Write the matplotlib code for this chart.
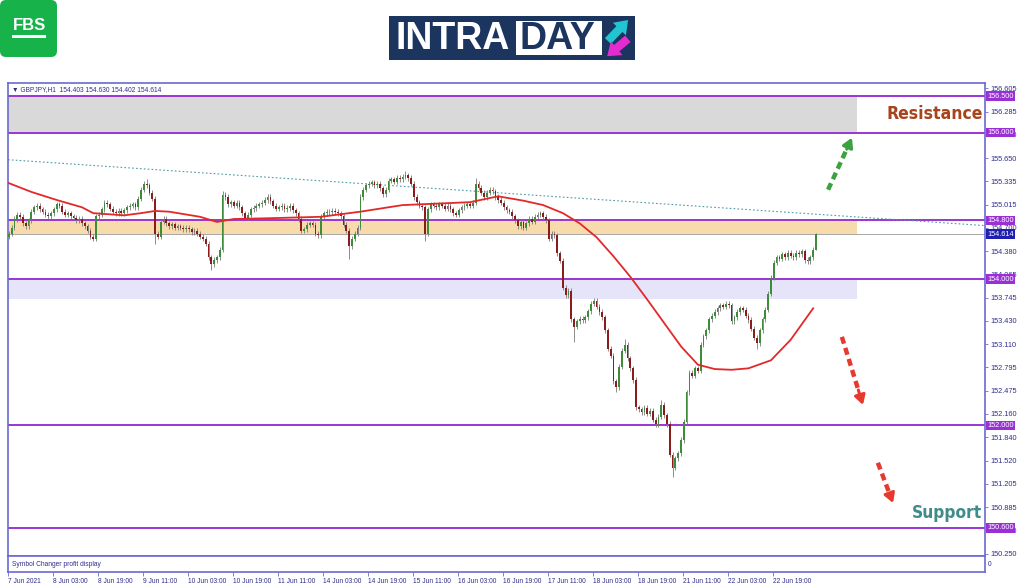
import matplotlib
matplotlib.use('Agg')
import matplotlib.pyplot as plt
import matplotlib.transforms as mtransforms
from matplotlib.patches import FancyBboxPatch, Rectangle, FancyArrowPatch

plt.rcParams['font.family'] = ['Liberation Sans', 'DejaVu Sans']

# hourly closes, GBPJPY H1, 16 bars per row (one row per time label)
closes = [
    154.62, 154.70, 154.82, 154.88, 154.85, 154.76, 154.72, 154.80, 154.92, 154.98, 155.00, 154.95, 154.92, 154.88, 154.86, 154.90,
    154.95, 155.02, 155.00, 154.92, 154.88, 154.90, 154.86, 154.84, 154.80, 154.82, 154.76, 154.72, 154.66, 154.58, 154.55, 154.86,
    154.88, 154.95, 155.04, 155.02, 154.96, 154.92, 154.90, 154.93, 154.90, 154.94, 154.98, 155.00, 155.02, 154.98, 155.10, 155.22,
    155.30, 155.28, 155.18, 155.10, 154.62, 154.58, 154.78, 154.82, 154.76, 154.72, 154.75, 154.70, 154.72, 154.70, 154.68, 154.70,
    154.68, 154.64, 154.66, 154.62, 154.58, 154.55, 154.48, 154.30, 154.20, 154.26, 154.30, 154.40, 155.15, 155.12, 155.02, 155.05,
    155.00, 155.04, 154.98, 154.90, 154.84, 154.88, 154.95, 154.97, 155.00, 155.02, 155.04, 155.08, 155.12, 155.06, 155.00, 154.96,
    154.98, 155.00, 154.95, 154.97, 155.00, 154.94, 154.90, 154.82, 154.66, 154.68, 154.74, 154.76, 154.74, 154.62, 154.60, 154.86,
    154.90, 154.92, 154.91, 154.93, 154.92, 154.90, 154.86, 154.74, 154.66, 154.45, 154.55, 154.62, 154.70, 155.12, 155.22, 155.28,
    155.30, 155.32, 155.28, 155.30, 155.24, 155.16, 155.22, 155.34, 155.36, 155.33, 155.38, 155.36, 155.40, 155.42, 155.38, 155.30,
    155.12, 155.05, 155.00, 154.98, 154.62, 154.95, 155.02, 155.00, 154.98, 155.02, 155.00, 154.96, 155.00, 154.95, 154.90, 154.88,
    154.94, 154.98, 155.00, 155.02, 155.00, 155.04, 155.30, 155.25, 155.18, 155.12, 155.18, 155.22, 155.20, 155.12, 155.08, 155.04,
    154.98, 154.94, 154.92, 154.86, 154.80, 154.72, 154.78, 154.70, 154.76, 154.82, 154.78, 154.85, 154.88, 154.90, 154.85, 154.80,
    154.55, 154.62, 154.60, 154.35, 154.25, 153.88, 153.78, 153.84, 153.45, 153.35, 153.42, 153.46, 153.44, 153.48, 153.56, 153.66,
    153.70, 153.62, 153.55, 153.48, 153.30, 153.05, 152.95, 152.60, 152.52, 152.80, 153.02, 153.10, 152.92, 152.78, 152.62, 152.25,
    152.22, 152.18, 152.24, 152.16, 152.20, 152.08, 152.02, 152.12, 152.28, 152.14, 152.02, 151.60, 151.42, 151.55, 151.62, 151.80,
    152.05, 152.45, 152.72, 152.68, 152.78, 152.75, 153.10, 153.22, 153.30, 153.45, 153.50, 153.55, 153.60, 153.64, 153.62, 153.66,
    153.64, 153.42, 153.48, 153.55, 153.60, 153.58, 153.50, 153.44, 153.32, 153.20, 153.12, 153.30, 153.45, 153.58, 153.80, 154.02,
    154.22, 154.30, 154.28, 154.34, 154.30, 154.36, 154.32, 154.30, 154.36, 154.34, 154.38, 154.26, 154.24, 154.30, 154.403, 154.614,
]
first_open = 154.58

# bars with long wicks (bar index -> extreme)
long_highs = {49: 155.37, 76: 155.20, 141: 155.47, 166: 155.38, 219: 153.18, 232: 152.35, 287: 154.630}
long_lows = {30: 154.52, 52: 154.48, 72: 154.12, 121: 154.28, 148: 154.52, 201: 153.14,
             216: 152.45, 236: 151.30, 266: 153.05, 287: 154.402}
short_wick = 0.035

# moving average (bar index, price)
ma_bars = [0, 8, 17, 26, 30, 41, 47, 52, 57, 68, 74, 80, 92, 111, 125, 140, 164, 174, 183,
           190, 197, 203, 209, 215, 221, 227, 233, 239, 245, 251, 257, 263, 271, 278, 286]
ma_prices = [155.31, 155.19, 155.08, 154.98, 154.90, 154.87, 154.90, 154.93, 154.92, 154.85,
             154.78, 154.82, 154.83, 154.85, 154.92, 155.01, 155.05, 155.13, 155.07, 155.01,
             154.90, 154.76, 154.57, 154.31, 154.03, 153.72, 153.40, 153.08, 152.83, 152.77,
             152.76, 152.78, 152.89, 153.17, 153.60]

trend_bars = [-0.3, 347.1]
trend_prices = [155.63, 154.73]

levels = [156.5, 156.0, 154.8, 154.0, 152.0, 150.6]
bid = 154.614
zones = [(156.0, 156.5, '#d9d9d9'), (154.6, 154.8, '#f8dbad'), (153.73, 154.0, '#e6e4f8')]
zone_end = 301.5

price_ticks = [150.250, 150.570, 150.885, 151.205, 151.520, 151.840, 152.160, 152.475, 152.795,
               153.110, 153.430, 153.745, 154.065, 154.380, 154.700, 155.015, 155.335, 155.650,
               155.970, 156.285, 156.605]
time_labels = ['7 Jun 2021', '8 Jun 03:00', '8 Jun 19:00', '9 Jun 11:00', '10 Jun 03:00',
               '10 Jun 19:00', '11 Jun 11:00', '14 Jun 03:00', '14 Jun 19:00', '15 Jun 11:00',
               '16 Jun 03:00', '16 Jun 19:00', '17 Jun 11:00', '18 Jun 03:00', '18 Jun 19:00',
               '21 Jun 11:00', '22 Jun 03:00', '22 Jun 19:00']

# projection arrows (bar, price) start -> tip
arrows = [((291.3, 155.22), (299.8, 155.93), '#3aa23e'),
          ((296.2, 153.21), (303.7, 152.28), '#e8392e'),
          ((309.0, 151.49), (314.4, 150.94), '#e8392e')]

axis_blue = '#6a6ad2'
text_blue = '#2e2e8c'

fig = plt.figure(figsize=(10.24, 5.87), dpi=100)
ax = fig.add_axes([8 / 1024, 1 - 556 / 587, 977 / 1024, 473 / 587])
sub = fig.add_axes([8 / 1024, 1 - 572 / 587, 977 / 1024, 16 / 587])

xmin, xmax = -0.3, 347.1
ax.set_xlim(xmin, xmax)
ax.set_ylim(150.216, 156.678)

for lo, hi, col in zones:
    ax.fill_between([xmin, zone_end], lo, hi, color=col, lw=0, zorder=0)

for lvl in levels:
    ax.axhline(lvl, color='#9b35d0', lw=1.4, zorder=1)
ax.axhline(bid, color='#a8a8a8', lw=0.7, zorder=1)
ax.plot(trend_bars, trend_prices, color='#4f9aa8', lw=0.8, ls=(0, (1.5, 2.0)), zorder=1)

opens = [first_open] + closes[:-1]
for i, (o, c) in enumerate(zip(opens, closes)):
    hi = long_highs.get(i, max(o, c) + short_wick)
    lo = long_lows.get(i, min(o, c) - short_wick)
    ax.vlines(i, lo, hi, color='#7a7a7a', lw=0.6, zorder=2)
    col = '#3c8c3c' if c >= o else '#8c1c1c'
    ax.bar(i, max(abs(c - o), 0.012), bottom=min(o, c), width=0.62, color=col, lw=0, zorder=3)

ax.plot(ma_bars, ma_prices, color='#e3282a', lw=1.3, zorder=4)

for (x0, y0), (x1, y1), col in arrows:
    xm, ym = x1 - 0.22 * (x1 - x0), y1 - 0.22 * (y1 - y0)
    ax.plot([x0, xm], [y0, ym], color=col, lw=3.2, ls=(0, (1.6, 1.0)), solid_capstyle='butt', zorder=5)
    ax.annotate('', xy=(x1, y1), xytext=(xm, ym),
                arrowprops=dict(arrowstyle='-|>,head_length=0.55,head_width=0.32', color=col,
                                lw=2.2, shrinkA=0, shrinkB=0), zorder=5)

ax.set_xticks([])
ax.yaxis.tick_right()
ax.set_yticks(price_ticks)
ax.set_yticklabels([f'{v:.3f}' for v in price_ticks])
ax.tick_params(axis='y', length=2.5, width=0.6, color=axis_blue, labelcolor=text_blue, labelsize=5.3, pad=1.5)
for s in ax.spines.values():
    s.set_color(axis_blue)
    s.set_linewidth(1.2)

lab_tr = mtransforms.blended_transform_factory(ax.transAxes, ax.transData)
for lvl in levels:
    ax.text(1.0025, lvl, f'{lvl:.3f}', transform=lab_tr, ha='left', va='center', fontsize=5.3,
            color='white', clip_on=False, zorder=10,
            bbox=dict(boxstyle='square,pad=0.18', fc='#9b2fd6', ec='none'))
ax.text(1.0025, bid, f'{bid:.3f}', transform=lab_tr, ha='left', va='center', fontsize=5.3,
        color='white', clip_on=False, zorder=10,
        bbox=dict(boxstyle='square,pad=0.18', fc='#1e1eb0', ec='none'))

ax.text(0.004, 0.987, '\u25bc GBPJPY,H1  154.403 154.630 154.402 154.614', transform=ax.transAxes,
        ha='left', va='center', fontsize=4.8, color=text_blue)

ax.text(0.998, 156.25, 'Resistance', transform=lab_tr, ha='right', va='center', fontsize=12.6,
        fontweight='bold', fontstretch='condensed', color='#a8441c', family=['DejaVu Sans'])
ax.text(0.997, 150.81, 'Support', transform=lab_tr, ha='right', va='center', fontsize=12.4,
        fontweight='bold', fontstretch='condensed', color='#3f8c8a', family=['DejaVu Sans'])

sub.set_xlim(xmin, xmax)
sub.set_ylim(0, 1)
sub.set_yticks([])
sub.set_xticks([16 * k - 0.5 for k in range(len(time_labels))])
sub.set_xticklabels(time_labels, ha='left')
sub.tick_params(axis='x', length=3, width=0.6, color=axis_blue, labelcolor=text_blue, labelsize=4.8, pad=1)
for s in sub.spines.values():
    s.set_color(axis_blue)
    s.set_linewidth(1.2)
sub.text(0.004, 0.5, 'Symbol Changer profit display', transform=sub.transAxes, ha='left', va='center',
         fontsize=4.8, color=text_blue)
sub.text(1.003, 0.5, '0', transform=sub.transAxes, ha='left', va='center', fontsize=4.8,
         color=text_blue, clip_on=False)

# logos, drawn in pixel coordinates
top = fig.add_axes([0, 0, 1, 1], zorder=20)
top.set_xlim(0, 1024)
top.set_ylim(587, 0)
top.axis('off')
top.patch.set_alpha(0)

top.add_patch(FancyBboxPatch((0, 0), 57, 57, boxstyle='round,pad=0,rounding_size=6', fc='#18b24b', ec='none'))
top.text(29, 25, 'FBS', ha='center', va='center', fontsize=12, fontweight='bold', color='white')
top.add_patch(Rectangle((12, 35), 34, 2.5, fc='white', ec='none'))

top.add_patch(Rectangle((389, 16), 246, 44, fc='#1b355f', ec='none'))
top.text(396, 39, 'INTRA', ha='left', va='center', fontsize=27, fontweight='bold', color='white')
top.add_patch(Rectangle((516, 21), 86, 34, fc='white', ec='none'))
top.text(519, 39, 'DAY', ha='left', va='center', fontsize=27, fontweight='bold', color='#1b355f')
top.add_patch(FancyArrowPatch((606, 43), (630, 18), arrowstyle='simple,head_length=9,head_width=13,tail_width=6',
                              mutation_scale=1, fc='#21c5d2', ec='none'))
top.add_patch(FancyArrowPatch((630, 37), (605, 58), arrowstyle='simple,head_length=9,head_width=13,tail_width=6',
                              mutation_scale=1, fc='#e42bd0', ec='none'))

fig.savefig('out.png', dpi=100)
